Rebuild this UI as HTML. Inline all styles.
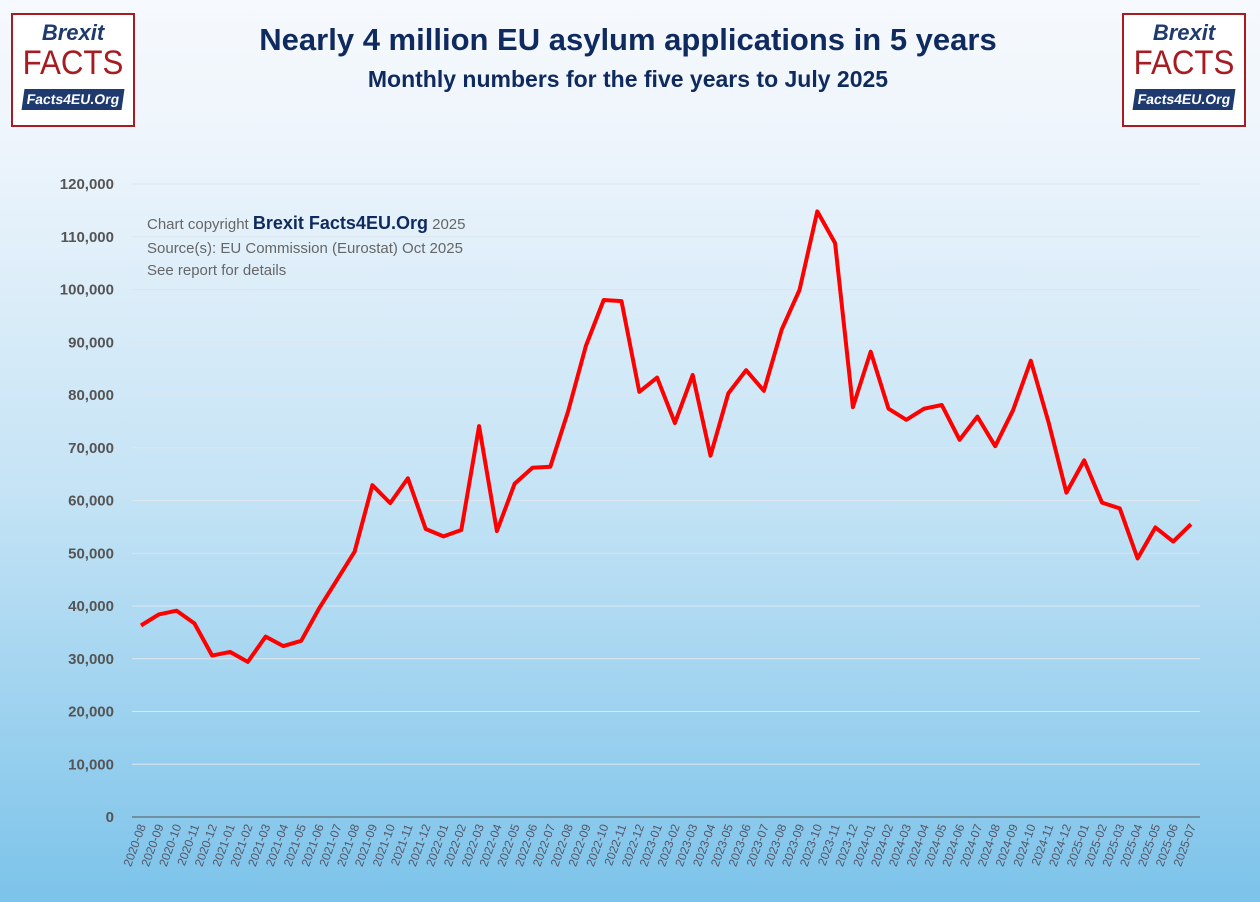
<!DOCTYPE html>
<html><head><meta charset="utf-8"><style>
body{margin:0;width:1260px;height:902px;overflow:hidden;font-family:"Liberation Sans",sans-serif;}
#bg{position:absolute;left:0;top:0;width:1260px;height:902px;background:linear-gradient(#f6f9fd 0%,#eef5fc 15%,#c4e3f5 55%,#7cc3ea 100%);}
.logo{position:absolute;width:124px;height:114px;background:#fff;border:2px solid #a61c20;box-sizing:border-box;text-align:center}
.logo .b{color:#1e3a6e;font-weight:bold;font-style:italic;font-size:22px;margin-top:6px;line-height:24px}
.logo .f{color:#a61c20;font-size:34px;line-height:36px;transform:scaleX(0.92)}
.logo .o{background:#1e3a6e;color:#fff;font-weight:bold;font-size:14px;margin:8px 10px 0;line-height:21px;transform:skewX(-8deg)}
</style></head><body><div id="bg"></div>
<div class="logo" style="left:11px;top:13px"><div class="b">Brexit</div><div class="f">FACTS</div><div class="o">Facts4EU.Org</div></div>
<div class="logo" style="left:1122px;top:13px"><div class="b">Brexit</div><div class="f">FACTS</div><div class="o">Facts4EU.Org</div></div>
<svg id="s" width="1260" height="902" style="position:absolute;left:0;top:0">
<text x="628" y="50" text-anchor="middle" font-size="31" font-weight="bold" fill="#0f2a5e">Nearly 4 million EU asylum applications in 5 years</text>
<text x="628" y="87" text-anchor="middle" font-size="23" font-weight="bold" fill="#0f2a5e">Monthly numbers for the five years to July 2025</text>
<text x="147" y="229" font-size="15" fill="#666">Chart copyright <tspan font-weight="bold" font-size="18" fill="#0f2a5e">Brexit Facts4EU.Org</tspan> 2025</text>
<text x="147" y="253" font-size="15" fill="#666">Source(s): EU Commission (Eurostat) Oct 2025</text>
<text x="147" y="275" font-size="15" fill="#666">See report for details</text>
</svg>
<script>
var v=[36300,38400,39100,36700,30600,31300,29400,34200,32400,33400,39500,44900,50300,62900,59500,64200,54600,53200,54400,74100,54200,63200,66200,66400,76900,89300,98000,97800,80600,83300,74700,83800,68500,80300,84700,80800,92400,99900,114800,108800,77700,88200,77400,75300,77400,78100,71500,75900,70300,77100,86500,74800,61500,67600,59600,58500,49000,54900,52200,55500];
var s=document.getElementById('s'),h='';
function Y(x){return 817-x*0.005275;}
for(var i=0;i<=12;i++){var y=Y(i*10000);
 h+='<line x1="132" x2="1200" y1="'+y+'" y2="'+y+'" stroke="'+(i? '#dde6ee':'#555')+'" stroke-width="1"/>';
 h+='<text x="114" y="'+(y+5)+'" text-anchor="end" font-size="15" font-weight="bold" fill="#555">'+(i?(i*10)+',000':'0')+'</text>';}
var p='';for(var i=0;i<60;i++){var x=141+i*1050/59;p+=x.toFixed(1)+','+Y(v[i]).toFixed(1)+' ';
 var yy=2020+Math.floor((7+i)/12),m=(7+i)%12+1;var lab=yy+'-'+(m<10?'0':'')+m;
 h+='<text transform="translate('+(x+5)+',826) rotate(-70)" text-anchor="end" font-size="12" fill="#556">'+lab+'</text>';}
h+='<polyline points="'+p+'" fill="none" stroke="#f00" stroke-width="4" stroke-linejoin="round"/>';
s.insertAdjacentHTML('beforeend',h);
</script>
</body></html>
